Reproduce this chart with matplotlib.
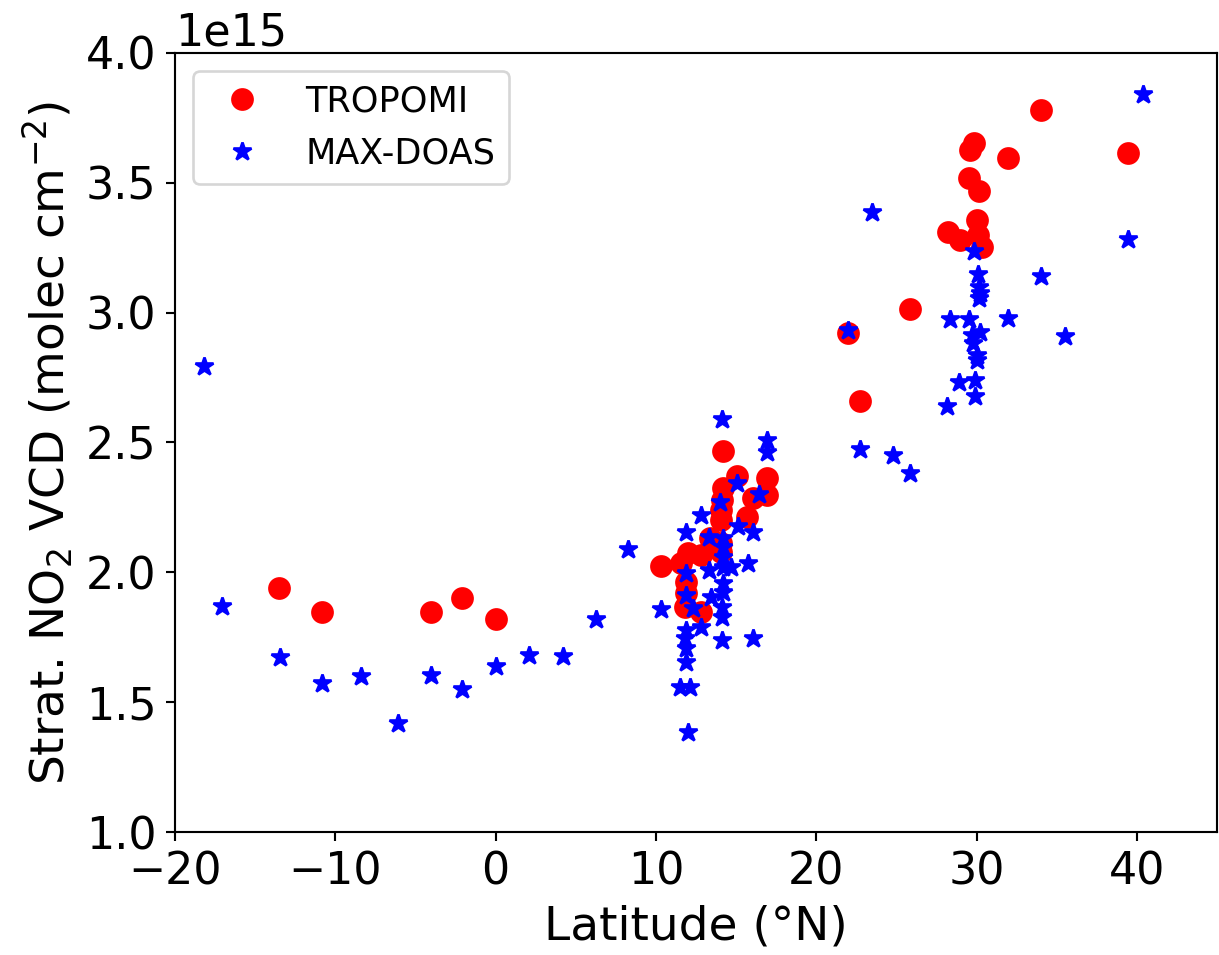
import numpy as np
import matplotlib
matplotlib.use("Agg")
import matplotlib.pyplot as plt

# TROPOMI stratospheric NO2 (x1e15 molec cm-2) vs latitude
tropomi_lat = [-13.5, -10.8, -4.06, -2.08, 0.02, 10.3, 11.59, 12.0, 12.84, 13.36,
               11.9, 11.9, 11.8, 12.84, 14.09, 14.09, 14.09, 14.09, 14.1, 14.19,
               14.19, 15.06, 15.69, 16.06, 16.9, 16.9, 21.99, 22.72, 25.84, 28.23,
               28.96, 29.53, 29.59, 29.86, 30.0, 30.1, 30.32, 30.17, 31.94, 34.0,
               39.43]
tropomi_vcd = [1.94, 1.846, 1.848, 1.90, 1.82, 2.025, 2.035, 2.073, 2.067, 2.131,
               1.964, 1.919, 1.868, 1.848, 2.112, 2.079, 2.201, 2.240, 2.28, 2.323,
               2.468, 2.371, 2.212, 2.285, 2.298, 2.362, 2.920, 2.660, 3.014, 3.31,
               3.28, 3.517, 3.626, 3.654, 3.357, 3.299, 3.254, 3.468, 3.594, 3.779,
               3.616]

# MAX-DOAS
maxdoas_lat = [-18.16, -17.08, -13.46, -10.84, -8.38, -6.10, -4.06, -2.08, 0.02, 2.06,
               4.18, 6.24, 8.24, 10.3,
               14.13, 16.9, 16.9, 15.06, 13.98, 16.44, 12.80, 15.12, 16.06, 11.90,
               13.30, 14.19, 14.19, 14.19, 14.19, 14.7, 13.3, 15.75, 11.90, 14.19,
               14.19, 13.46, 11.9, 12.32, 14.15, 14.15, 12.8, 11.9, 11.8, 11.9,
               11.9, 11.49, 12.11, 11.97, 14.15, 16.06,
               21.99, 22.72, 23.47, 24.76, 25.84, 28.17, 28.34, 28.92, 29.53, 29.69,
               29.8, 29.86, 29.9, 29.9, 30.0, 30.0, 30.07, 30.17, 30.2, 30.17,
               30.21, 31.94, 34.0, 35.52, 39.43, 40.41]
maxdoas_vcd = [2.794, 1.871, 1.675, 1.573, 1.601, 1.419, 1.603, 1.549, 1.639, 1.68,
               1.678, 1.82, 2.09, 1.859,
               2.589, 2.509, 2.464, 2.343, 2.272, 2.300, 2.221, 2.178, 2.156, 2.156,
               2.137, 2.131, 2.099, 2.060, 2.022, 2.022, 2.009, 2.035, 1.996, 1.958,
               1.925, 1.906, 1.913, 1.861, 1.868, 1.829, 1.791, 1.778, 1.746, 1.707,
               1.656, 1.560, 1.560, 1.386, 1.741, 1.749,
               2.933, 2.475, 3.386, 2.452, 2.384, 2.640, 2.974, 2.734, 2.974, 2.914,
               2.882, 3.237, 2.740, 2.679, 2.837, 2.817, 3.147, 3.100, 3.074, 3.055,
               2.926, 2.980, 3.141, 2.910, 3.283, 3.841]

xticks = [-20, -10, 0, 10, 20, 30, 40]
yticks = [1.0, 1.5, 2.0, 2.5, 3.0, 3.5, 4.0]

dpi = 190.47
fig = plt.figure(figsize=(1219 / dpi, 955 / dpi), dpi=dpi)
ax = fig.add_axes([175 / 1219, 1 - 832 / 955, (1217 - 175) / 1219, (832 - 53) / 955])

ax.plot(tropomi_lat, np.array(tropomi_vcd) * 1e15, "o", color="red",
        markersize=7.6, linestyle="none", label="TROPOMI")
ax.plot(maxdoas_lat, np.array(maxdoas_vcd) * 1e15, "*", color="blue",
        markersize=7.1, linestyle="none", label="MAX-DOAS")

ax.set_xlim(-20, 45)
ax.set_ylim(1e15, 4e15)
ax.set_xticks(xticks)
ax.set_yticks(np.array(yticks) * 1e15)
ax.tick_params(labelsize=16.8)
ax.yaxis.get_offset_text().set_fontsize(16.8)

ax.set_xlabel("Latitude (°N)", fontsize=17.8)
ax.set_ylabel("Strat. NO$_2$ VCD (molec cm$^{-2}$)", fontsize=17.8)
ax.legend(loc="upper left", fontsize=13.3)

fig.savefig("out.png", dpi=dpi)
